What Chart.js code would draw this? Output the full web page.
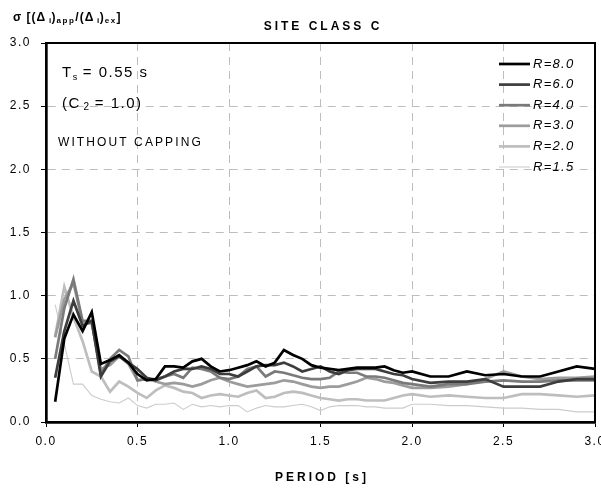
<!DOCTYPE html>
<html><head><meta charset="utf-8">
<script src="https://cdn.jsdelivr.net/npm/chart.js@4"></script>
<style>html,body{margin:0;padding:0;background:#fff}#wrap{width:601px;height:489px;position:relative}</style>
</head><body><div id="wrap"><canvas id="c"></canvas></div>
<script>
// ---- data ----
const periods = [0.05,0.10,0.15,0.20,0.25,0.30,0.35,0.40,0.45,0.50,0.55,0.60,0.65,0.70,0.75,0.80,0.85,0.90,0.95,1.00,
  1.05,1.10,1.15,1.20,1.25,1.30,1.35,1.40,1.45,1.50,1.55,1.60,1.65,1.70,1.75,1.80,1.85,1.90,1.95,2.00,
  2.10,2.20,2.30,2.40,2.50,2.60,2.70,2.80,2.90,3.00];
const seriesLabels = ['R=8.0','R=6.0','R=4.0','R=3.0','R=2.0','R=1.5'];
const sigmaR8 = [0.16,0.66,0.85,0.72,0.87,0.46,0.49,0.53,0.47,0.38,0.33,0.34,0.44,0.44,0.43,0.48,0.50,0.44,0.40,0.41,
  0.43,0.45,0.48,0.44,0.47,0.57,0.53,0.50,0.45,0.43,0.42,0.41,0.42,0.43,0.43,0.43,0.44,0.41,0.39,0.40,
  0.36,0.36,0.40,0.37,0.38,0.36,0.36,0.40,0.44,0.42];
const sigmaR6 = [0.35,0.72,0.96,0.76,0.80,0.36,0.48,0.52,0.47,0.42,0.35,0.33,0.36,0.40,0.42,0.42,0.44,0.42,0.38,0.38,
  0.36,0.40,0.44,0.45,0.45,0.47,0.44,0.40,0.42,0.44,0.40,0.38,0.41,0.42,0.42,0.42,0.40,0.38,0.37,0.34,
  0.31,0.32,0.32,0.34,0.28,0.28,0.28,0.32,0.34,0.34];
const sigmaR4 = [0.50,0.90,1.13,0.80,0.80,0.38,0.50,0.57,0.52,0.33,0.34,0.34,0.36,0.38,0.35,0.43,0.42,0.40,0.35,0.34,
  0.36,0.42,0.44,0.36,0.40,0.39,0.37,0.35,0.34,0.34,0.35,0.40,0.39,0.39,0.36,0.36,0.35,0.33,0.31,0.30,
  0.28,0.30,0.30,0.32,0.33,0.32,0.32,0.33,0.33,0.33];
const sigmaR3 = [0.67,0.97,1.10,0.78,0.78,0.42,0.45,0.52,0.46,0.33,0.34,0.32,0.30,0.31,0.30,0.28,0.30,0.33,0.35,0.32,
  0.30,0.28,0.29,0.30,0.31,0.33,0.32,0.30,0.28,0.27,0.28,0.28,0.30,0.32,0.35,0.34,0.32,0.31,0.29,0.27,
  0.27,0.28,0.30,0.34,0.40,0.36,0.34,0.35,0.35,0.36];
const sigmaR2 = [0.68,1.07,0.83,0.64,0.40,0.36,0.24,0.32,0.28,0.23,0.19,0.25,0.29,0.27,0.24,0.23,0.19,0.21,0.22,0.21,
  0.20,0.23,0.25,0.19,0.20,0.23,0.24,0.23,0.21,0.19,0.18,0.17,0.18,0.18,0.17,0.17,0.17,0.19,0.21,0.22,
  0.20,0.21,0.20,0.19,0.19,0.22,0.22,0.21,0.20,0.21];
const sigmaR15 = [0.93,0.62,0.30,0.30,0.21,0.18,0.16,0.15,0.19,0.13,0.11,0.14,0.14,0.15,0.10,0.14,0.12,0.13,0.12,0.13,
  0.13,0.08,0.11,0.13,0.12,0.12,0.13,0.14,0.12,0.09,0.12,0.13,0.13,0.13,0.12,0.12,0.11,0.11,0.11,0.14,
  0.14,0.13,0.13,0.12,0.11,0.11,0.10,0.10,0.08,0.08];
const xTickValues = [0,0.5,1.0,1.5,2.0,2.5,3.0];
const xTickLabels = ['0.0','0.5','1.0','1.5','2.0','2.5','3.0'];
const yTickValues = [0,0.5,1.0,1.5,2.0,2.5,3.0];
const yTickLabels = ['0.0','0.5','1.0','1.5','2.0','2.5','3.0'];

// ---- styles ----
const seriesColors = ['#000000','#3d3d3d','#7a7a7a','#9c9c9c','#bebebe','#cccccc'];
const seriesWidths = [2.7,2.7,2.7,2.7,2.7,1.1];
const FONT = '"Liberation Sans", Arial, sans-serif';

const allSeries = [sigmaR8,sigmaR6,sigmaR4,sigmaR3,sigmaR2,sigmaR15];
const datasets = allSeries.map((s,i)=>({
  label: seriesLabels[i],
  data: s.map((v,j)=>({x:periods[j], y:v})),
  borderColor: seriesColors[i],
  borderWidth: seriesWidths[i],
  pointRadius: 0,
  tension: 0,
  fill: false
}));

function drawRuns(ctx, x, y, runs){
  let cx = x;
  for (const r of runs){
    ctx.font = (r[2]?'bold ':'') + r[1] + 'px ' + FONT;
    ctx.letterSpacing = (r[4]||0) + 'px';
    ctx.fillText(r[0], cx, y + (r[3]||0));
    cx += ctx.measureText(r[0]).width;
  }
  ctx.letterSpacing = '0px';
}

const decor = {
  id:'decor',
  beforeDraw(chart){ chart.ctx.letterSpacing = '1.5px'; },
  afterDatasetsDraw(chart){ chart.ctx.letterSpacing = '0px'; },
  afterDraw(chart){
    const ctx = chart.ctx, a = chart.chartArea;
    ctx.save();
    ctx.strokeStyle = '#000'; ctx.lineWidth = 2;
    ctx.beginPath(); ctx.moveTo(a.left, a.top); ctx.lineTo(a.right, a.top); ctx.lineTo(a.right, a.bottom); ctx.stroke();
    ctx.fillStyle = '#000';
    ctx.textBaseline = 'alphabetic';
    ctx.textAlign = 'center';
    ctx.font = 'bold 12px ' + FONT; ctx.letterSpacing = '3px';
    ctx.fillText('SITE CLASS C', 323, 30);
    ctx.fillText('PERIOD [s]', 322, 481);
    ctx.letterSpacing = '0px';
    ctx.textAlign = 'left';
    drawRuns(ctx, 13, 21, [
      ['σ [(Δ',12,true,0,1],[' i',8,true,2,0.5],[')',12,true,0,1],['app',8,true,2,1.5],
      ['/(Δ',12,true,0,1],[' i',8,true,2,0.5],[')',12,true,0,1],['ex',8,true,2,1.5],[']',12,true,0,1]
    ]);
    drawRuns(ctx, 62, 77, [['T',15,false,0,1.5],['s',9,false,3,0],[' = 0.55 s',15,false,0,1.5]]);
    drawRuns(ctx, 62, 108, [['(C',15,false,0,1.5],[' 2',10,false,2,0],[' = 1.0)',15,false,0,1.5]]);
    drawRuns(ctx, 58, 146, [['WITHOUT CAPPING',12,false,0,2.1]]);
    chart.data.datasets.forEach((ds,i)=>{
      const y = 64 + i*20.6;
      ctx.strokeStyle = ds.borderColor; ctx.lineWidth = ds.borderWidth;
      ctx.beginPath(); ctx.moveTo(499, y); ctx.lineTo(530, y); ctx.stroke();
      ctx.font = 'italic 13px ' + FONT; ctx.letterSpacing = '1.3px';
      ctx.textBaseline = 'middle';
      ctx.fillText(ds.label, 533, y);
    });
    ctx.letterSpacing = '0px';
    ctx.restore();
  }
};

const gridOpts = { color:'#bdbdbd', lineWidth:1, tickColor:'#000', tickLength:5, tickWidth:1, borderDash:[8,6], tickBorderDash:[] };
new Chart(document.getElementById('c'), {
  type:'line',
  data:{datasets},
  plugins:[decor],
  options:{
    responsive:true, maintainAspectRatio:false, animation:false,
    layout:{padding:{top:43,left:0,right:6,bottom:0}},
    plugins:{legend:{display:false}, title:{display:false}, tooltip:{enabled:false}},
    scales:{
      x:{
        type:'linear', min:0, max:3,
        afterBuildTicks:s=>{ s.ticks = xTickValues.map(v=>({value:v})); },
        afterFit:s=>{ s.height = 67; s.paddingLeft = 0; s.paddingRight = 0; },
        ticks:{ callback:(v,i)=>xTickLabels[i], color:'#000', font:{family:FONT,size:12}, padding:7, maxRotation:0, autoSkip:false },
        grid:gridOpts,
        border:{ color:'#000', width:2.7, dash:[8,6] }
      },
      y:{
        type:'linear', min:0, max:3,
        afterBuildTicks:s=>{ s.ticks = yTickValues.map(v=>({value:v})); },
        afterFit:s=>{ s.width = 46; s.paddingTop = 0; s.paddingBottom = 0; },
        ticks:{ callback:(v,i)=>yTickLabels[i], color:'#000', font:{family:FONT,size:12}, padding:10 },
        grid:gridOpts,
        border:{ color:'#000', width:2.7, dash:[8,6] }
      }
    }
  }
});
</script></body></html>
